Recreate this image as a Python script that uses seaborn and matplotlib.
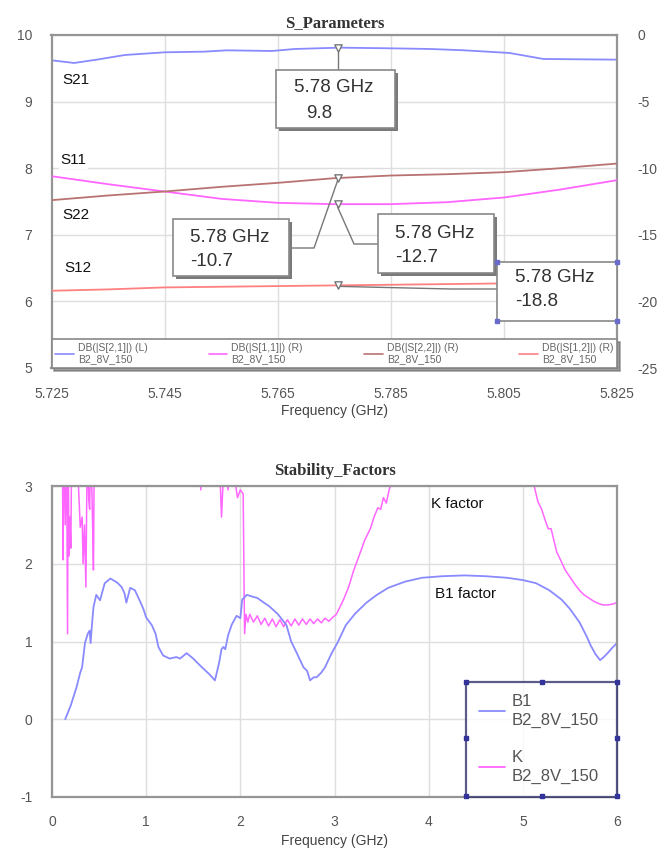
import matplotlib
matplotlib.use("Agg")
import matplotlib.pyplot as plt
from matplotlib.lines import Line2D
from matplotlib.patches import Rectangle
import numpy as np
import pandas as pd
import seaborn as sns

# ---------------- data: S-parameters (5.725 - 5.825 GHz) ----------------
s21_freq = [5.725, 5.729, 5.733, 5.738, 5.745, 5.752, 5.756, 5.764, 5.768,
            5.776, 5.785, 5.792, 5.798, 5.806, 5.812, 5.825]
s21_db = [9.62, 9.58, 9.63, 9.70, 9.74, 9.75, 9.77, 9.76, 9.79,
          9.81, 9.80, 9.79, 9.77, 9.73, 9.64, 9.63]

sr_freq = [5.725, 5.735, 5.745, 5.755, 5.765, 5.775, 5.785, 5.795, 5.805, 5.815, 5.825]
s11_db = [-10.6, -11.2, -11.75, -12.3, -12.6, -12.7, -12.7, -12.55, -12.2, -11.6, -10.9]
s22_db = [-12.4, -12.05, -11.75, -11.4, -11.1, -10.75, -10.55, -10.45, -10.3, -10.0, -9.65]
s12_db = [-19.2, -19.1, -18.95, -18.9, -18.85, -18.8, -18.75, -18.7, -18.65, -18.58, -18.5]

marker_freq = 5.7756
marker_text = "5.78 GHz"
marker_vals = {"S21": 9.8, "S22": -10.7, "S11": -12.7, "S12": -18.8}

top_legend = ["DB(|S[2,1]|) (L)", "DB(|S[1,1]|) (R)", "DB(|S[2,2]|) (R)", "DB(|S[1,2]|) (R)"]
dataset = "B2_8V_150"
top_xticks = [5.725, 5.745, 5.765, 5.785, 5.805, 5.825]
left_yticks = [5, 6, 7, 8, 9, 10]
right_yticks = [-25, -20, -15, -10, -5, 0]

# ---------------- data: stability factors (0 - 6 GHz) ----------------
b1_freq = [0.14, 0.2, 0.26, 0.30, 0.32, 0.35, 0.38, 0.40, 0.41, 0.42, 0.44, 0.47, 0.51,
           0.56, 0.62, 0.69, 0.74, 0.77, 0.79, 0.83, 0.88, 0.93, 0.97, 1.0, 1.06, 1.1,
           1.13, 1.18, 1.25, 1.32, 1.36, 1.43, 1.5, 1.54, 1.6, 1.67, 1.73, 1.76, 1.78,
           1.80, 1.82, 1.84, 1.87, 1.91, 1.96, 2.0, 2.02, 2.07, 2.12, 2.18, 2.25, 2.31,
           2.4, 2.49, 2.54, 2.6, 2.67, 2.71, 2.74, 2.78, 2.81, 2.86, 2.9, 2.97, 3.03,
           3.12, 3.22, 3.34, 3.45, 3.57, 3.75, 3.93, 4.15, 4.38, 4.6, 4.83, 5.0, 5.14,
           5.28, 5.41, 5.5, 5.6, 5.63, 5.68, 5.72, 5.77, 5.82, 5.86, 5.9, 5.95, 6.0]
b1_val = [0.0, 0.18, 0.41, 0.6, 0.67, 0.98, 1.1, 1.14, 0.98, 1.15, 1.44, 1.6, 1.53,
          1.75, 1.81, 1.76, 1.7, 1.62, 1.5, 1.69, 1.66, 1.53, 1.42, 1.31, 1.21, 1.1,
          0.93, 0.82, 0.78, 0.8, 0.78, 0.85, 0.78, 0.73, 0.66, 0.58, 0.5, 0.65, 0.76,
          0.9, 0.93, 0.9, 1.08, 1.22, 1.33, 1.3, 1.54, 1.6, 1.58, 1.56, 1.5, 1.45,
          1.35, 1.21, 1.0, 0.85, 0.67, 0.62, 0.5, 0.54, 0.54, 0.6, 0.67, 0.85, 0.98,
          1.21, 1.36, 1.5, 1.6, 1.69, 1.77, 1.82, 1.84, 1.85, 1.84, 1.82, 1.79, 1.75,
          1.66, 1.54, 1.42, 1.25, 1.18, 1.06, 0.95, 0.84, 0.76, 0.8, 0.85, 0.92, 0.98]

k_freq = [0.11, 0.117, 0.123, 0.14, 0.155, 0.165, 0.172, 0.18, 0.19, 0.20, 0.21, 0.26,
          0.30, 0.32, 0.33, 0.345, 0.36, 0.375, 0.39, 0.40, 0.41, 0.43, 0.44, 0.45,
          0.5, 1.55, 1.58, 1.60, 1.77, 1.80, 1.83, 1.87, 1.90, 1.97, 2.0, 2.03, 2.045,
          2.06, 2.08, 2.10, 2.14, 2.18, 2.22, 2.26, 2.30, 2.34, 2.38, 2.42, 2.46, 2.50,
          2.54, 2.58, 2.62, 2.66, 2.70, 2.74, 2.78, 2.82, 2.86, 2.90, 2.94, 2.98, 3.02,
          3.06, 3.10, 3.15, 3.20, 3.26, 3.32, 3.38, 3.42, 3.46, 3.49, 3.52, 3.55, 3.58,
          3.61, 3.65, 3.7, 5.05, 5.1, 5.13, 5.16, 5.2, 5.24, 5.27, 5.30, 5.33, 5.36,
          5.40, 5.45, 5.5, 5.55, 5.6, 5.65, 5.7, 5.75, 5.8, 5.85, 5.9, 5.95, 6.0]
k_val = [3.6, 2.05, 3.6, 2.5, 3.6, 1.1, 3.6, 2.1, 2.6, 2.2, 3.6, 3.6,
         2.47, 2.6, 2.0, 2.5, 1.7, 3.6, 2.82, 2.7, 3.6, 2.6, 1.92, 3.6,
         3.6, 3.6, 2.95, 3.6, 3.6, 2.6, 3.4, 2.95, 3.4, 2.85, 2.95, 2.9, 1.1,
         1.35, 1.25, 1.35, 1.25, 1.33, 1.22, 1.30, 1.20, 1.29, 1.19, 1.28, 1.19, 1.28,
         1.20, 1.29, 1.21, 1.29, 1.22, 1.29, 1.23, 1.29, 1.24, 1.30, 1.26, 1.31, 1.35,
         1.45, 1.55, 1.7, 1.9, 2.1, 2.3, 2.45, 2.6, 2.72, 2.7, 2.85, 2.78, 2.95,
         3.05, 3.3, 3.6, 3.6, 3.1, 2.95, 2.8, 2.7, 2.55, 2.45, 2.45, 2.3, 2.15,
         2.05, 1.92, 1.83, 1.74, 1.66, 1.6, 1.56, 1.52, 1.49, 1.47, 1.47, 1.48, 1.5]

bot_xticks = [0, 1, 2, 3, 4, 5, 6]
bot_yticks = [-1, 0, 1, 2, 3]

# ---------------- style ----------------
BLUE = "#8a8aff"
MAGENTA = "#ff66ff"
BROWN = "#b97272"
SALMON = "#ff8080"
TICK = "#555555"
SPINE = "#959595"
GRID = "#dedede"

sns.set_theme(style="white")
plt.rcParams["font.family"] = ["Liberation Sans", "DejaVu Sans"]
plt.rcParams["axes.unicode_minus"] = False

W, H = 662, 851
fig = plt.figure(figsize=(W / 100, H / 100), dpi=100)


def rect(x0, y0, x1, y1):
    return [x0 / W, 1 - y1 / H, (x1 - x0) / W, (y1 - y0) / H]


def fpt(x, y):
    return x / W, 1 - y / H


def style_axis(a):
    for s in a.spines.values():
        s.set_color(SPINE)
        s.set_linewidth(1.6)
    a.grid(True, color=GRID, lw=1)
    a.set_facecolor("white")


# ================= top chart =================
ax = fig.add_axes(rect(51.5, 35, 617, 368))
ax2 = ax.twinx()

sns.lineplot(x=s21_freq, y=s21_db, ax=ax, color=BLUE, lw=1.3, estimator=None)
sns.lineplot(x=sr_freq, y=s11_db, ax=ax2, color=MAGENTA, lw=1.3, estimator=None)
sns.lineplot(x=sr_freq, y=s22_db, ax=ax2, color=BROWN, lw=1.3, estimator=None)
sns.lineplot(x=sr_freq, y=s12_db, ax=ax2, color=SALMON, lw=1.3, estimator=None)

ax.set_xlim(5.725, 5.825)
ax.set_ylim(5, 10)
ax2.set_ylim(-25, 0)
ax.set_xticks(top_xticks)
ax.set_xticklabels([f"{t:.3f}" for t in top_xticks])
ax.set_yticks(left_yticks)
ax2.set_yticks(right_yticks)
style_axis(ax)
ax2.grid(False)
for s in ax2.spines.values():
    s.set_visible(False)
ax.tick_params(axis="y", colors=TICK, labelsize=10, length=0, pad=14)
ax.tick_params(axis="x", colors=TICK, labelsize=10, length=0, pad=14)
ax2.tick_params(axis="y", colors=TICK, labelsize=10, length=0, pad=15)
ax.set_xlabel("Frequency (GHz)", fontsize=10, color="#444444")
ax.xaxis.set_label_coords(0.5, -0.108)
ax.set_ylabel("")
ax2.set_ylabel("")
ax.set_title("S_Parameters", family=["Liberation Serif", "DejaVu Serif"],
             fontweight="bold", fontsize=12, color="#333333", pad=6)

# curve labels
for txt, xv, yv in [("S21", 5.7269, 9.32), ("S11", 5.7266, 8.12),
                    ("S22", 5.7269, 7.30), ("S12", 5.7273, 6.50)]:
    ax.text(xv, yv, txt, fontsize=11, color="#111111", va="center", ha="left",
            bbox=dict(facecolor="white", edgecolor="none", pad=1), zorder=5)

# markers
sns.scatterplot(x=[marker_freq], y=[marker_vals["S21"]], ax=ax, marker="v", s=28,
                color="white", edgecolor="#777777", linewidth=1, zorder=6)
sns.scatterplot(x=[marker_freq] * 3,
                y=[marker_vals["S22"], marker_vals["S11"], marker_vals["S12"]],
                ax=ax2, marker="v", s=28, color="white", edgecolor="#777777",
                linewidth=1, zorder=6)

# top legend
handles = [Line2D([], [], color=c, lw=1.2) for c in (BLUE, MAGENTA, BROWN, SALMON)]
labels = [f"{t}\n{dataset}" for t in top_legend]
leg = ax2.legend(handles, labels, ncol=4, loc="lower left",
                 bbox_to_anchor=(0.0, 0.0, 1.0, 0.135), mode="expand",
                 fontsize=7.5, frameon=True, fancybox=False, shadow=True,
                 edgecolor="#888888", handlelength=1.8, handletextpad=0.4,
                 borderaxespad=0, borderpad=0.35, labelspacing=0.2)
for t in leg.get_texts():
    t.set_color("#666666")
leg.get_frame().set_linewidth(1.2)

# ---------------- marker readout boxes ----------------
fig.canvas.draw()


def to_px(a, x, y):
    X, Y = a.transData.transform((x, y))
    return X, H - Y


def box(x0, y0, x1, y1, shadow=True, handles_on=False):
    if shadow:
        fig.add_artist(Rectangle(fpt(x0 + 3, y1 + 3), (x1 - x0) / W, (y1 - y0) / H,
                                 transform=fig.transFigure, facecolor="#7a7a7a",
                                 edgecolor="none", zorder=7))
    fig.add_artist(Rectangle(fpt(x0, y1), (x1 - x0) / W, (y1 - y0) / H,
                             transform=fig.transFigure, facecolor="white",
                             edgecolor="#888888", lw=1.2, zorder=8))
    if handles_on:
        xs = [x0, x1, x0, x1]
        ys = [y0, y0, y1, y1]
        fig.add_artist(Line2D([x / W for x in xs], [1 - y / H for y in ys],
                              transform=fig.transFigure, ls="none", marker="s",
                              ms=2.5, color="#6a6acc", zorder=9))


def leader(pts):
    fig.add_artist(Line2D([p[0] / W for p in pts], [1 - p[1] / H for p in pts],
                          transform=fig.transFigure, color="#777777", lw=1, zorder=6))


def btxt(x, y, s):
    fig.text(x / W, 1 - y / H, s, fontsize=13.5, color="#333333", va="center",
             ha="left", zorder=10)


# S21 readout
mx, my = to_px(ax, marker_freq, marker_vals["S21"])
leader([(mx, my + 3), (mx, 70)])
box(276, 70, 395, 128)
btxt(294, 88, marker_text)
btxt(306, 114, f"{marker_vals['S21']}")

# S22 readout
mx, my = to_px(ax2, marker_freq, marker_vals["S22"])
leader([(mx, my + 3), (314, 248), (289, 248)])
box(173, 219, 289, 276)
btxt(190, 237, marker_text)
btxt(190, 262, f"{marker_vals['S22']}")

# S11 readout
mx, my = to_px(ax2, marker_freq, marker_vals["S11"])
leader([(mx, my + 3), (354, 244), (378, 244)])
box(378, 214, 494, 273)
btxt(395, 233, marker_text)
btxt(395, 258, f"{marker_vals['S11']}")

# S12 readout
mx, my = to_px(ax2, marker_freq, marker_vals["S12"])
leader([(mx + 3, my + 1), (451, 289), (497, 289)])
box(497, 262, 617, 321, shadow=False, handles_on=True)
btxt(515, 278, marker_text)
btxt(515, 302, f"{marker_vals['S12']}")

# ================= bottom chart =================
bx = fig.add_axes(rect(52, 486, 617, 797))
sns.lineplot(x=k_freq, y=k_val, ax=bx, color=MAGENTA, lw=1.1, estimator=None)
sns.lineplot(x=b1_freq, y=b1_val, ax=bx, color=BLUE, lw=1.3, estimator=None)
bx.set_xlim(0, 6)
bx.set_ylim(-1, 3)
bx.set_xticks(bot_xticks)
bx.set_yticks(bot_yticks)
style_axis(bx)
bx.tick_params(axis="y", colors=TICK, labelsize=10, length=0, pad=14)
bx.tick_params(axis="x", colors=TICK, labelsize=10, length=0, pad=13)
bx.set_xlabel("Frequency (GHz)", fontsize=10, color="#444444")
bx.xaxis.set_label_coords(0.5, -0.118)
bx.set_ylabel("")
bx.set_title("Stability_Factors", family=["Liberation Serif", "DejaVu Serif"],
             fontweight="bold", fontsize=12, color="#333333", pad=8)

bx.text(4.03, 2.77, "K factor", fontsize=11, color="#111111", va="center")
bx.text(4.07, 1.61, "B1 factor", fontsize=11, color="#111111", va="center")

bh = [Line2D([], [], color=BLUE, lw=1.3), Line2D([], [], color=MAGENTA, lw=1.3)]
bleg = bx.legend(bh, [f"B1\n{dataset}", f"K\n{dataset}"], loc="lower left",
                 bbox_to_anchor=(0.733, 0.0, 0.267, 0.37), mode="expand",
                 fontsize=12, frameon=True, fancybox=False, edgecolor="#33336e",
                 handlelength=1.6, handletextpad=0.4, borderaxespad=0,
                 borderpad=0.75, labelspacing=1.3)
for t in bleg.get_texts():
    t.set_color("#555555")
    t.set_linespacing(1.35)
bleg.get_frame().set_linewidth(1.6)

# selection handles on bottom legend
hx = [466, 542, 617, 466, 617, 466, 542, 617]
hy = [682, 682, 682, 738, 738, 796, 796, 796]
fig.add_artist(Line2D([x / W for x in hx], [1 - y / H for y in hy],
                      transform=fig.transFigure, ls="none", marker="s", ms=2.5,
                      color="#33339a", zorder=9))

fig.savefig("out.png", dpi=100, facecolor="white")
